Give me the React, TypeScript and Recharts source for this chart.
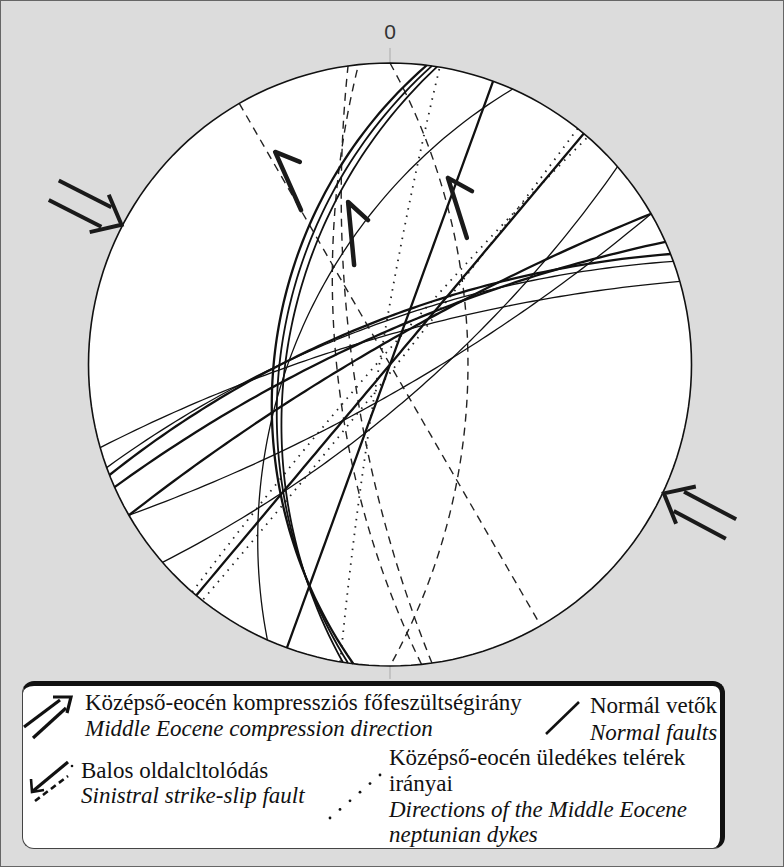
import { Area, ComposedChart, Line, Scatter, XAxis, YAxis } from 'recharts'

const W = 784
const H = 867
// stereonet centre and radius on the page
const CX = 390
const CY = 364.5
const RPX = 301.5

// Wulff net, lower hemisphere. Planes as dip direction / dip (deg)
const thickFaultDipDir = [110, 130, 330, 336, 338.5, 277]
const thickFaultDip = [90, 90, 82, 78, 73, 48]
const mediumFaultDipDir = [278, 279]
const mediumFaultDip = [50, 52]
const thinFaultDipDir = [294, 139, 150, 340, 344]
const thinFaultDip = [55, 76, 80, 74, 79]
const sinistralDipDir = [60, 264, 90, 262]
const sinistralDip = [90, 70, 61, 76]
const dykeDipDir = [279.5, 128.5, 311]
const dykeDip = [86, 88, 86]

// sinistral slip markers: tail, tip, barb (net units)
const slipTail = [[-0.295, 0.512], [-0.119, 0.33], [0.255, 0.42]]
const slipTip = [[-0.381, 0.705], [-0.139, 0.539], [0.192, 0.619]]
const slipBarb = [[-0.299, 0.672], [-0.073, 0.479], [0.272, 0.575]]

// compression: azimuth where the arrow meets the primitive, and the way it points
const compressionAt = [297.5, 115.2]
const compressionToward = [117, 298]

const xMin = (0 - CX) / RPX
const xMax = (W - CX) / RPX
const yMin = (CY - H) / RPX
const yMax = CY / RPX

const rad = Math.PI / 180

function greatCircle(dd: number, dip: number) {
  const sAz = (dd - 90) * rad
  const s = [Math.sin(sAz), Math.cos(sAz), 0]
  const d = [Math.cos(dip * rad) * Math.sin(dd * rad), Math.cos(dip * rad) * Math.cos(dd * rad), Math.sin(dip * rad)]
  const pts = []
  for (let a = 0; a <= 180; a += 2) {
    const c = Math.cos(a * rad)
    const sn = Math.sin(a * rad)
    const e = c * s[0] + sn * d[0]
    const n = c * s[1] + sn * d[1]
    const dn = c * s[2] + sn * d[2]
    pts.push({ x: e / (1 + dn), y: n / (1 + dn) })
  }
  return pts
}

const primitive = Array.from({ length: 181 }, (_, i) => ({
  x: Math.sin(i * 2 * rad),
  y: Math.cos(i * 2 * rad),
}))
// white disk as a range area
const disk = Array.from({ length: 181 }, (_, i) => {
  const t = (180 - i) * rad
  return { x: Math.cos(t), band: [-Math.sin(t), Math.sin(t)] }
})

// double-shafted arrow, sizes in px converted to net units
function compressionArrow(at: number, toward: number) {
  const k = 1 / RPX
  const tip = { x: Math.sin(at * rad) * 1.004, y: Math.cos(at * rad) * 1.004 }
  const u = { x: Math.sin(toward * rad), y: Math.cos(toward * rad) }
  const n = { x: -u.y, y: u.x }
  const p = (a: number, b: number) => ({ x: tip.x + (u.x * a + n.x * b) * k, y: tip.y + (u.y * a + n.y * b) * k })
  return [
    [p(-76, 11), p(-17, 11)],
    [p(-76, -11), p(-17, -11)],
    [p(-25, 21), p(0, 0), p(-25, -21)],
  ]
}

const zeroLabel = [{ x: 0, y: 1.08 }]

const seriesProps = { dataKey: 'y', type: 'linear' as const, dot: false, activeDot: false, isAnimationActive: false }

const serif = "'Liberation Serif', 'Times New Roman', serif"

function Legend() {
  return (
    <>
      <div
        style={{
          position: 'absolute',
          left: 21,
          top: 680,
          width: 697,
          height: 162,
          background: '#fff',
          borderTop: '5px solid #111',
          borderRight: '5px solid #111',
          borderLeft: '1.5px solid #444',
          borderBottom: '1.5px solid #444',
          borderRadius: 12,
        }}
      />
      <svg width={W} height={H} style={{ position: 'absolute', left: -1, top: -1 }}>
        <g style={{ fontFamily: serif, fontSize: 23 }} fill="#111">
          <text x={85} y={710}>Középső-eocén kompressziós főfeszültségirány</text>
          <text x={85} y={736} fontStyle="italic">Middle Eocene compression direction</text>
          <text x={590} y={713}>Normál vetők</text>
          <text x={590} y={740} fontStyle="italic">Normal faults</text>
          <text x={81} y={778}>Balos oldalcltolódás</text>
          <text x={81} y={803} fontStyle="italic">Sinistral strike-slip fault</text>
          <text x={389} y={765}>Középső-eocén üledékes telérek</text>
          <text x={389} y={791}>irányai</text>
          <text x={389} y={817} fontStyle="italic">Directions of the Middle Eocene</text>
          <text x={389} y={842} fontStyle="italic">neptunian dykes</text>
        </g>
        <g stroke="#111" fill="none" strokeWidth={3.2}>
          <line x1={24} y1={727} x2={60} y2={700} />
          <line x1={33} y1={738} x2={66} y2={708} />
          <polyline points="53,697 71,697 67,713" />
          <line x1={546} y1={734} x2={579} y2={702} strokeWidth={2.6} />
          <line x1={68} y1={762} x2={33} y2={791} />
          <polyline points="31,779 32,792 44,790" strokeWidth={2.6} />
          <line x1={35} y1={801} x2={68} y2={776} strokeDasharray="6 4" strokeWidth={2.6} />
        </g>
        <g fill="#111">
          <circle cx={72} cy={766} r={1.3} />
          {[0, 1, 2, 3, 4, 5].map((i) => (
            <circle key={i} cx={330 + i * 10} cy={818 - i * 8.6} r={1.4} />
          ))}
        </g>
      </svg>
    </>
  )
}

export default function App() {
  const arrows = compressionAt.map((a, i) => compressionArrow(a, compressionToward[i]))
  return (
    <div style={{ position: 'absolute', left: 0, top: 0, width: W, height: H, background: '#dcdcdc', boxSizing: 'border-box', border: '1px solid #666', overflow: 'hidden' }}>
      <div style={{ position: 'absolute', left: -1, top: -1 }}>
        <ComposedChart width={W} height={H} margin={{ top: 0, right: 0, bottom: 0, left: 0 }}>
          <XAxis type="number" dataKey="x" domain={[xMin, xMax]} allowDataOverflow hide />
          <YAxis type="number" domain={[yMin, yMax]} allowDataOverflow hide />
          <Area data={disk} dataKey="band" type="linear" stroke="none" fill="#fff" fillOpacity={1} dot={false} activeDot={false} isAnimationActive={false} />
          <Scatter
            data={zeroLabel}
            dataKey="y"
            isAnimationActive={false}
            shape={(p: any) => (
              <text x={p.cx} y={p.cy} textAnchor="middle" fontFamily="Liberation Sans, Arial, sans-serif" fontSize={21} fill="#333">
                0
              </text>
            )}
          />
          <Line {...seriesProps} data={[{ x: 0, y: 1 }, { x: 0, y: 1.05 }]} stroke="#aaa" strokeWidth={1} />
          <Line {...seriesProps} data={[{ x: 0, y: -1 }, { x: 0, y: -1.043 }]} stroke="#aaa" strokeWidth={1} />
          {dykeDipDir.map((dd, i) => (
            <Line key={'dy' + i} {...seriesProps} data={greatCircle(dd, dykeDip[i])} stroke="#222" strokeWidth={1.8} strokeDasharray="1.5 6" />
          ))}
          {sinistralDipDir.map((dd, i) => (
            <Line key={'sn' + i} {...seriesProps} data={greatCircle(dd, sinistralDip[i])} stroke="#222" strokeWidth={1.4} strokeDasharray="8 6" />
          ))}
          {thinFaultDipDir.map((dd, i) => (
            <Line key={'tn' + i} {...seriesProps} data={greatCircle(dd, thinFaultDip[i])} stroke="#111" strokeWidth={1.3} />
          ))}
          {mediumFaultDipDir.map((dd, i) => (
            <Line key={'md' + i} {...seriesProps} data={greatCircle(dd, mediumFaultDip[i])} stroke="#111" strokeWidth={1.8} />
          ))}
          {thickFaultDipDir.map((dd, i) => (
            <Line key={'tk' + i} {...seriesProps} data={greatCircle(dd, thickFaultDip[i])} stroke="#111" strokeWidth={2.3} />
          ))}
          <Line {...seriesProps} data={primitive} stroke="#111" strokeWidth={1.6} />
          {slipTail.map((t, i) => (
            <Line
              key={'sl' + i}
              {...seriesProps}
              data={[t, slipTip[i], slipBarb[i]].map(([x, y]) => ({ x, y }))}
              stroke="#1a1a1a"
              strokeWidth={4.5}
              strokeLinejoin="round"
              strokeLinecap="round"
            />
          ))}
          {arrows.flatMap((parts, i) =>
            parts.map((seg, j) => (
              <Line key={'ar' + i + j} {...seriesProps} data={seg} stroke="#1a1a1a" strokeWidth={4} strokeLinejoin="miter" />
            ))
          )}
        </ComposedChart>
      </div>
      <Legend />
    </div>
  )
}
